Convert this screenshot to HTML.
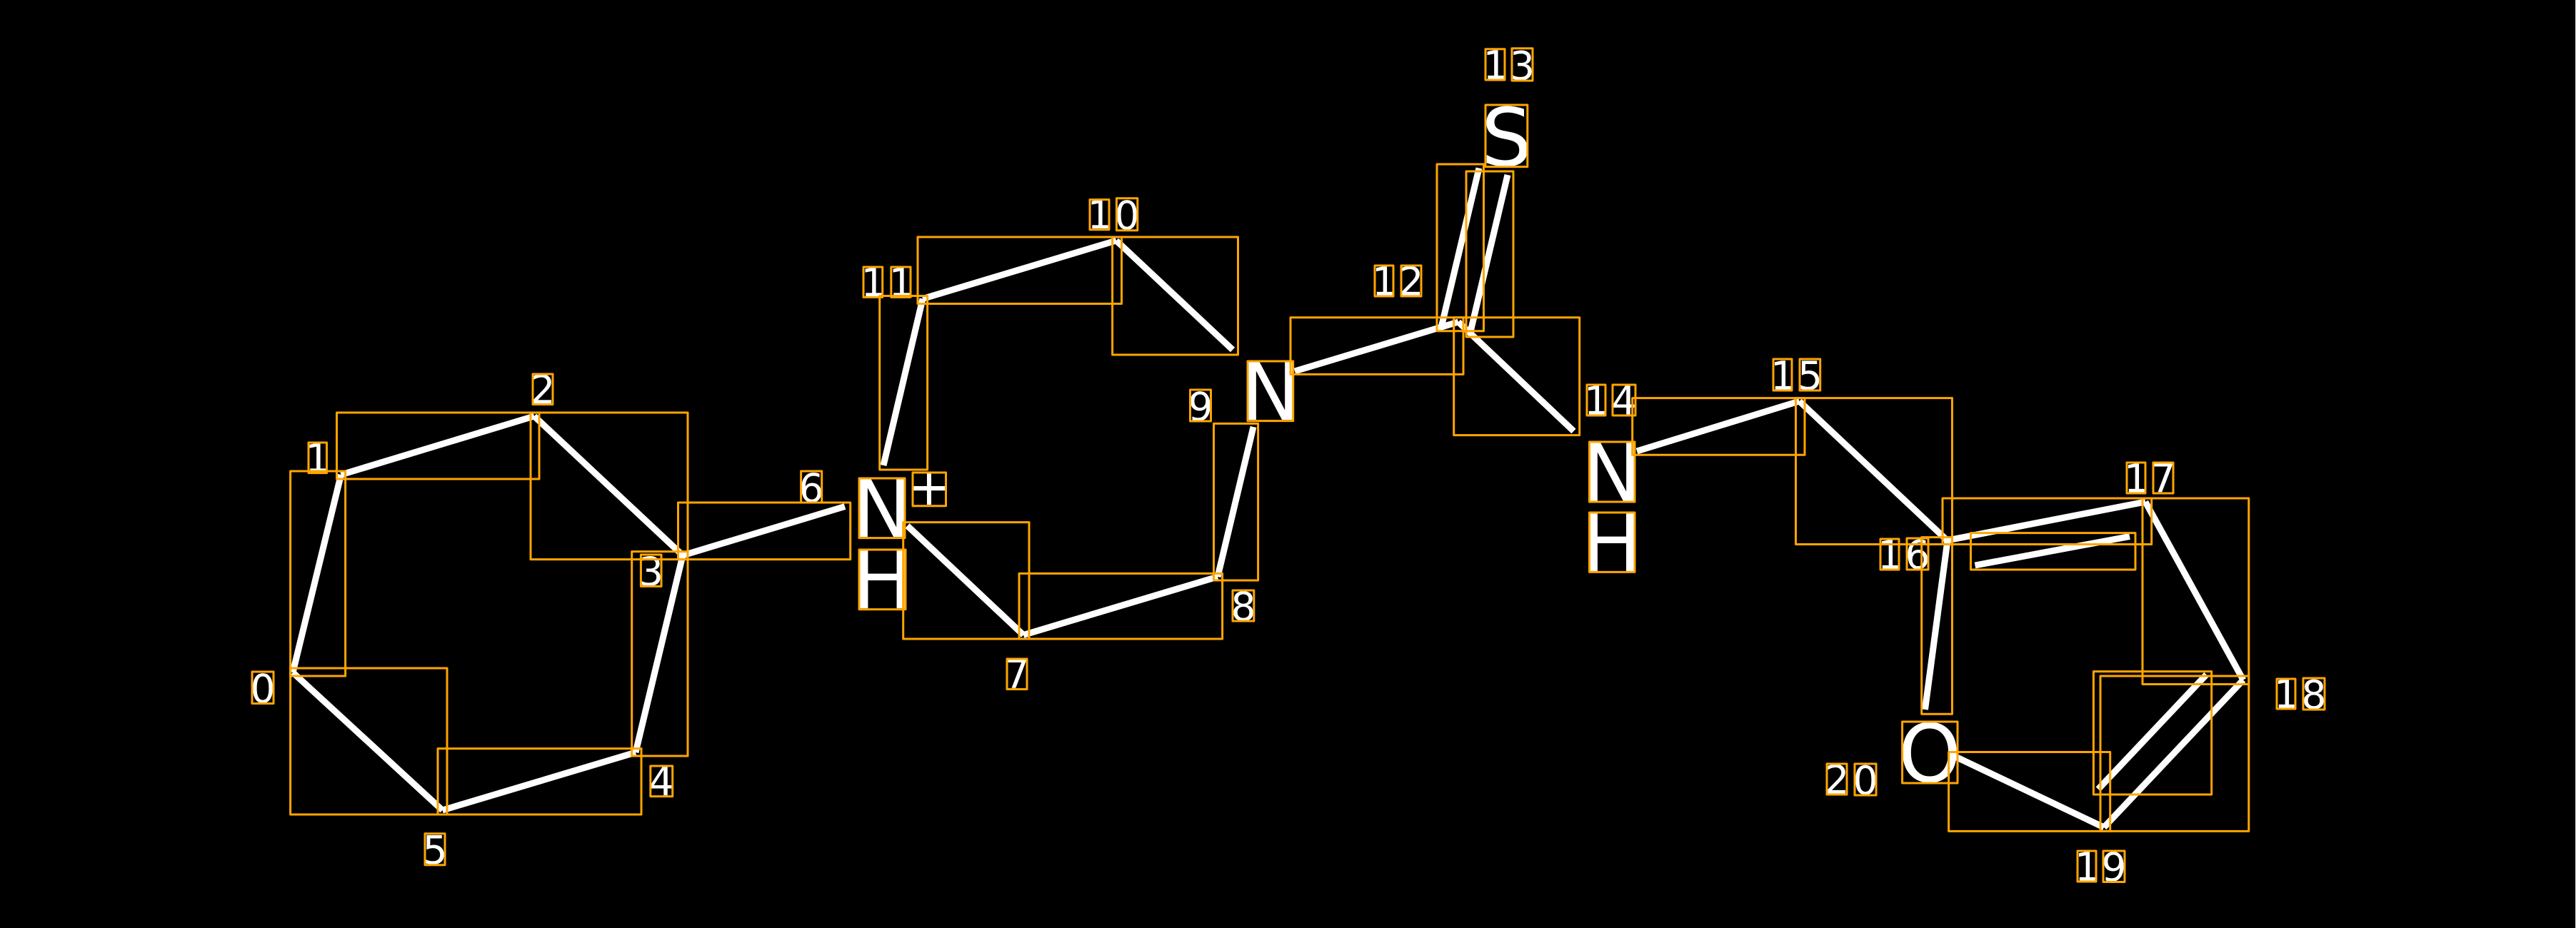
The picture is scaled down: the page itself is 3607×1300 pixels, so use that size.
<!DOCTYPE html>
<html><head><meta charset="utf-8"><title>Molecule</title>
<style>
html,body{margin:0;padding:0;background:#000;width:3607px;height:1300px;overflow:hidden}
svg{display:block}
text{font-family:"DejaVu Sans",sans-serif;fill:#fff;text-anchor:middle}
.d{font-size:55px}.b{font-size:112px}.p{font-size:73px}
.w line{stroke:#fff;stroke-width:9;stroke-linecap:butt}
.o rect{fill:none;stroke:#ffa500;stroke-width:3;stroke-linejoin:round}
</style></head><body>
<svg xmlns="http://www.w3.org/2000/svg" width="3607" height="1300" viewBox="0 0 3607 1300">
<rect x="0" y="0" width="3607" height="1300" fill="#000"/>
<rect x="3606" y="0" width="1" height="1300" fill="#ddd"/>
<g class="w">
<line x1="410" y1="942" x2="477.5" y2="665"/>
<line x1="477.5" y1="665" x2="748" y2="583"/>
<line x1="748" y1="583" x2="956" y2="778"/>
<line x1="956" y1="778" x2="890" y2="1054"/>
<line x1="890" y1="1054" x2="619.5" y2="1135"/>
<line x1="619.5" y1="1135" x2="410" y2="942"/>
<line x1="956" y1="778" x2="1183" y2="709.5"/>
<line x1="1270.5" y1="736.5" x2="1433" y2="889.5"/>
<line x1="1433" y1="889.5" x2="1705" y2="808"/>
<line x1="1705" y1="808" x2="1755" y2="598"/>
<line x1="1237" y1="652" x2="1292" y2="418.5"/>
<line x1="1292" y1="418.5" x2="1563" y2="337"/>
<line x1="1563" y1="337" x2="1726" y2="490"/>
<line x1="1813" y1="520" x2="2042" y2="451"/>
<line x1="2042" y1="451" x2="2203.5" y2="604"/>
<line x1="2017.5" y1="461" x2="2071" y2="235.5"/>
<line x1="2058" y1="469" x2="2111" y2="245"/>
<line x1="2292" y1="632" x2="2519.5" y2="562"/>
<line x1="2519.5" y1="562" x2="2726.5" y2="757"/>
<line x1="2726.5" y1="757" x2="3004" y2="703"/>
<line x1="2765.5" y1="792" x2="2982" y2="751.5"/>
<line x1="3004" y1="703" x2="3141" y2="952.5"/>
<line x1="3141" y1="952.5" x2="2946" y2="1159"/>
<line x1="3089.5" y1="945" x2="2938" y2="1105.5"/>
<line x1="2946" y1="1159" x2="2737" y2="1059.5"/>
<line x1="2727" y1="757" x2="2695.5" y2="994"/>
</g>
<g>
<text class="b" x="1235" y="752">N</text>
<text class="b" x="1235.5" y="852">H</text>
<text class="p" x="1301" y="707">+</text>
<text class="b" x="1779" y="588">N</text>
<text class="b" x="2109.5" y="232">S</text>
<text class="b" x="2257" y="702">N</text>
<text class="b" x="2257" y="800">H</text>
<text class="b" x="2702" y="1095">O</text>
<text class="d" x="368" y="984">0</text>
<text class="d" x="445" y="661">1</text>
<text class="d" x="760" y="565">2</text>
<text class="d" x="911.5" y="820">3</text>
<text class="d" x="926" y="1114">4</text>
<text class="d" x="609" y="1210">5</text>
<text class="d" x="1136" y="703">6</text>
<text class="d" x="1424" y="964">7</text>
<text class="d" x="1741" y="869">8</text>
<text class="d" x="1681" y="589">9</text>
<text class="d" x="1540" y="320">1</text>
<text class="d" x="1578" y="321">0</text>
<text class="d" x="1223" y="415">1</text>
<text class="d" x="1262" y="415">1</text>
<text class="d" x="1938.5" y="413.5">1</text>
<text class="d" x="1976" y="413.5">2</text>
<text class="d" x="2094" y="110.5">1</text>
<text class="d" x="2131.5" y="111.5">3</text>
<text class="d" x="2235.5" y="580.5">1</text>
<text class="d" x="2274" y="580.5">4</text>
<text class="d" x="2496.5" y="545.5">1</text>
<text class="d" x="2534.5" y="545.5">5</text>
<text class="d" x="2646.5" y="796.5">1</text>
<text class="d" x="2685" y="796.5">6</text>
<text class="d" x="2991.5" y="689.5">1</text>
<text class="d" x="3029" y="689.5">7</text>
<text class="d" x="3201.5" y="991.5">1</text>
<text class="d" x="3240" y="992.5">8</text>
<text class="d" x="2922.5" y="1233.5">1</text>
<text class="d" x="2960" y="1234">9</text>
<text class="d" x="2572" y="1111.5">2</text>
<text class="d" x="2612" y="1112.5">0</text>
</g>
<g class="o">
<rect x="406.6" y="660" width="77" height="287"/>
<rect x="471.5" y="578" width="283.5" height="93"/>
<rect x="743" y="578" width="220" height="205.6"/>
<rect x="884.7" y="772.6" width="78.3" height="286.4"/>
<rect x="613" y="1048.6" width="285" height="92.4"/>
<rect x="406.6" y="936" width="219.4" height="205"/>
<rect x="949.5" y="704" width="241.2" height="79.6"/>
<rect x="1285" y="332" width="285.5" height="93.5"/>
<rect x="1557.6" y="332" width="175.9" height="165"/>
<rect x="1231.7" y="414.5" width="66.9" height="243.5"/>
<rect x="1264.7" y="731.6" width="176.3" height="163.4"/>
<rect x="1427" y="803.4" width="284.6" height="91.6"/>
<rect x="1699.5" y="593.4" width="62.1" height="219.6"/>
<rect x="1807" y="444.8" width="242" height="79.6"/>
<rect x="2035.7" y="444.8" width="176" height="164.8"/>
<rect x="2012" y="230" width="65.5" height="233.7"/>
<rect x="2053" y="240" width="66" height="232"/>
<rect x="2285.7" y="557.6" width="241.3" height="79.6"/>
<rect x="2514.5" y="557.6" width="219" height="204.9"/>
<rect x="2720" y="698" width="292.7" height="64.5"/>
<rect x="2759.5" y="746.6" width="230.5" height="51.4"/>
<rect x="3000" y="698" width="148.8" height="260.5"/>
<rect x="2941" y="947" width="207.8" height="217.4"/>
<rect x="2931.4" y="940.6" width="165.3" height="172.4"/>
<rect x="2728.6" y="1053.5" width="226.1" height="110.9"/>
<rect x="2690.7" y="752.6" width="42.8" height="247.7"/>
<rect x="1203" y="670" width="64" height="83.6"/>
<rect x="1203" y="770" width="65" height="83.6"/>
<rect x="1278" y="662" width="46.5" height="46.7"/>
<rect x="1747" y="506" width="63.7" height="83.6"/>
<rect x="2080" y="147" width="58.8" height="86.6"/>
<rect x="2225.5" y="619" width="63.5" height="84"/>
<rect x="2225.5" y="718" width="63.5" height="83.4"/>
<rect x="2663.6" y="1011" width="77.4" height="86"/>
<rect x="353" y="941" width="30" height="44.5"/>
<rect x="432" y="620" width="25.5" height="42.6"/>
<rect x="746" y="524" width="28" height="42.5"/>
<rect x="897.4" y="777" width="28.6" height="44.4"/>
<rect x="910.8" y="1073" width="30.9" height="42.6"/>
<rect x="595" y="1167.7" width="28" height="44"/>
<rect x="1121.6" y="660" width="29.1" height="44"/>
<rect x="1410" y="923" width="28" height="42.5"/>
<rect x="1726" y="827" width="29.8" height="43"/>
<rect x="1666.5" y="546" width="29" height="44"/>
<rect x="1526" y="279.6" width="27" height="42.1"/>
<rect x="1563.4" y="277.7" width="29.4" height="45"/>
<rect x="1209" y="374" width="26.7" height="42.4"/>
<rect x="1247.8" y="374" width="27.2" height="42.4"/>
<rect x="1925" y="372" width="26" height="43"/>
<rect x="1962" y="372" width="28" height="43"/>
<rect x="2080" y="68.8" width="27" height="43.2"/>
<rect x="2117" y="67.8" width="29" height="45.2"/>
<rect x="2222" y="539" width="26" height="43"/>
<rect x="2258" y="539" width="32" height="43"/>
<rect x="2483" y="503" width="26" height="44"/>
<rect x="2520" y="503" width="28.7" height="44"/>
<rect x="2633" y="755" width="26" height="43"/>
<rect x="2670" y="754" width="30" height="44"/>
<rect x="2978" y="648" width="26" height="43"/>
<rect x="3015" y="648" width="28" height="43"/>
<rect x="3188" y="951" width="26" height="42"/>
<rect x="3225" y="950" width="30" height="44"/>
<rect x="2909" y="1192" width="26" height="43"/>
<rect x="2945" y="1192" width="30" height="43.5"/>
<rect x="2558" y="1070" width="28" height="43"/>
<rect x="2597" y="1070" width="30" height="44"/>
</g>
</svg>
</body></html>
